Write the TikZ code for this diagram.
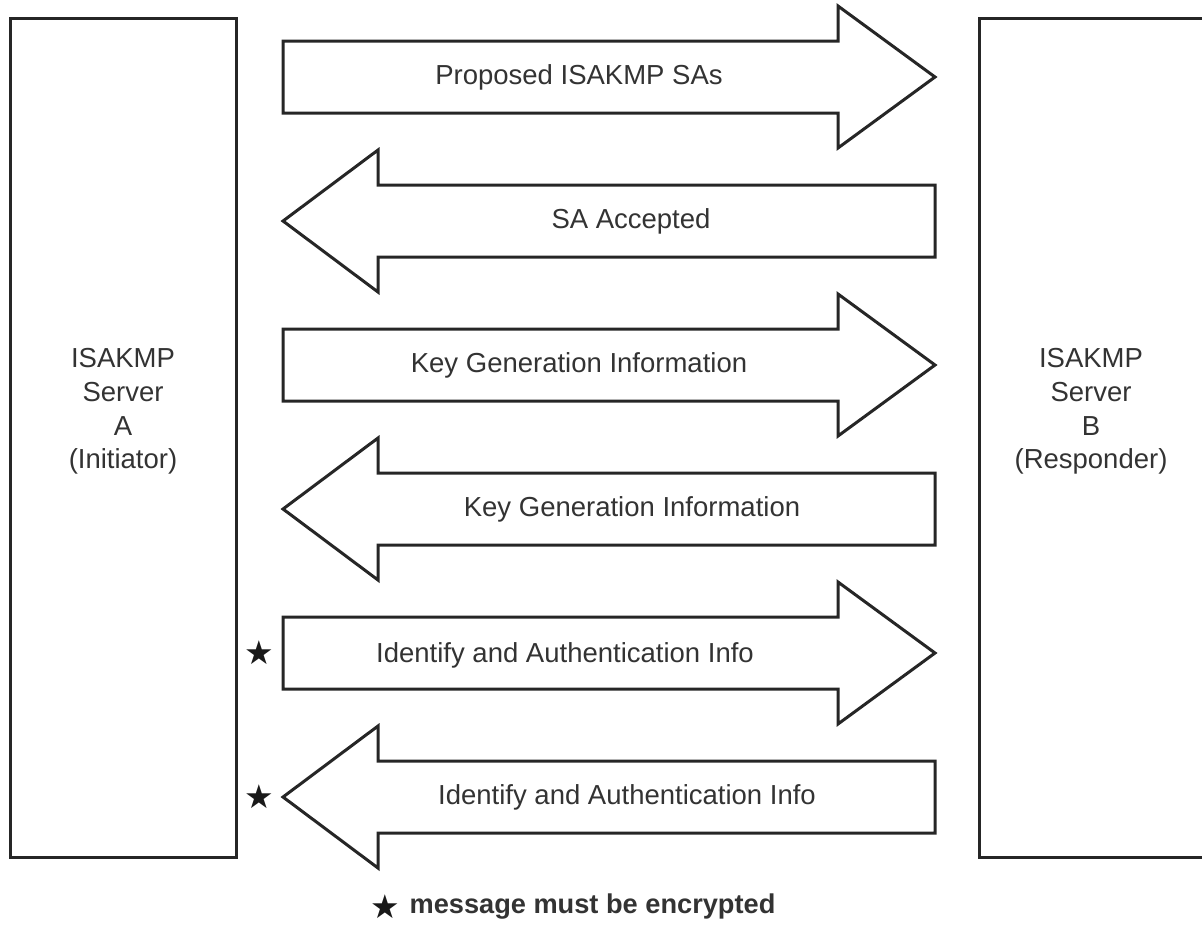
\documentclass[tikz,border=0pt]{standalone}
\usepackage{fontspec}
\setmainfont{Liberation Sans}
\newfontfamily\symfont{DejaVu Sans}
\usetikzlibrary{positioning}

\begin{document}
\begin{tikzpicture}[x=0.5pt, y=-0.5pt, font=\fontsize{13.75}{16.8}\selectfont,
  server/.style={draw=black!85, line width=1.5pt, minimum height=419.5pt, inner sep=0pt},
  msg/.style={draw=black!85, line width=1.5pt, line join=miter, fill=white},
  lbl/.style={text=black!80, inner sep=0pt, align=center},
  enc/.style={font=\symfont\fontsize{16.5}{16.5}\selectfont, inner sep=0pt, text=black!90}]
\useasboundingbox (0,0) rectangle (1202,943);
% the two servers
\node[server, minimum width=113pt] (srvA) at (123,437.5) {};
\node[server, minimum width=112pt] (srvB) at (1091,437.5) {};
\node[lbl] (nameA) at ([yshift=13pt]srvA.center) {ISAKMP\\Server\\A\\(Initiator)};
\node[lbl] (nameB) at ([yshift=13pt]srvB.center) {ISAKMP\\Server\\B\\(Responder)};
% messages, A to B and B to A
\draw[msg] (283,41) -- (838,41) -- (838,6) -- (935,77) -- (838,148) -- (838,113) -- (283,113) -- cycle;
\node[lbl] (m1) at (579,77) {Proposed ISAKMP SAs};
\draw[msg] (935,185) -- (378,185) -- (378,150) -- (283,221) -- (378,292) -- (378,257) -- (935,257) -- cycle;
\node[lbl] (m2) at (631,221) {SA Accepted};
\draw[msg] (283,329) -- (838,329) -- (838,294) -- (935,365) -- (838,436) -- (838,401) -- (283,401) -- cycle;
\node[lbl] (m3) at (579,365) {Key Generation Information};
\draw[msg] (935,473) -- (378,473) -- (378,438) -- (283,509) -- (378,580) -- (378,545) -- (935,545) -- cycle;
\node[lbl] (m4) at (632,509) {Key Generation Information};
\draw[msg] (283,617) -- (838,617) -- (838,582) -- (935,653) -- (838,724) -- (838,689) -- (283,689) -- cycle;
\node[lbl] (m5) at (565,655) {Identify and Authentication Info};
\draw[msg] (935,761) -- (378,761) -- (378,726) -- (283,797) -- (378,868) -- (378,833) -- (935,833) -- cycle;
\node[lbl] (m6) at (627,797) {Identify and Authentication Info};
% encrypted marks
\node[enc] (e5) at (259,653) {★};
\node[enc] (e6) at (259,797) {★};
% legend
\node[enc] (key) at (385,907) {★};
\node[lbl, font=\fontsize{13.6}{16.8}\selectfont\bfseries, right=4.5pt of key] (note) {message must be encrypted};
\end{tikzpicture}
\end{document}
